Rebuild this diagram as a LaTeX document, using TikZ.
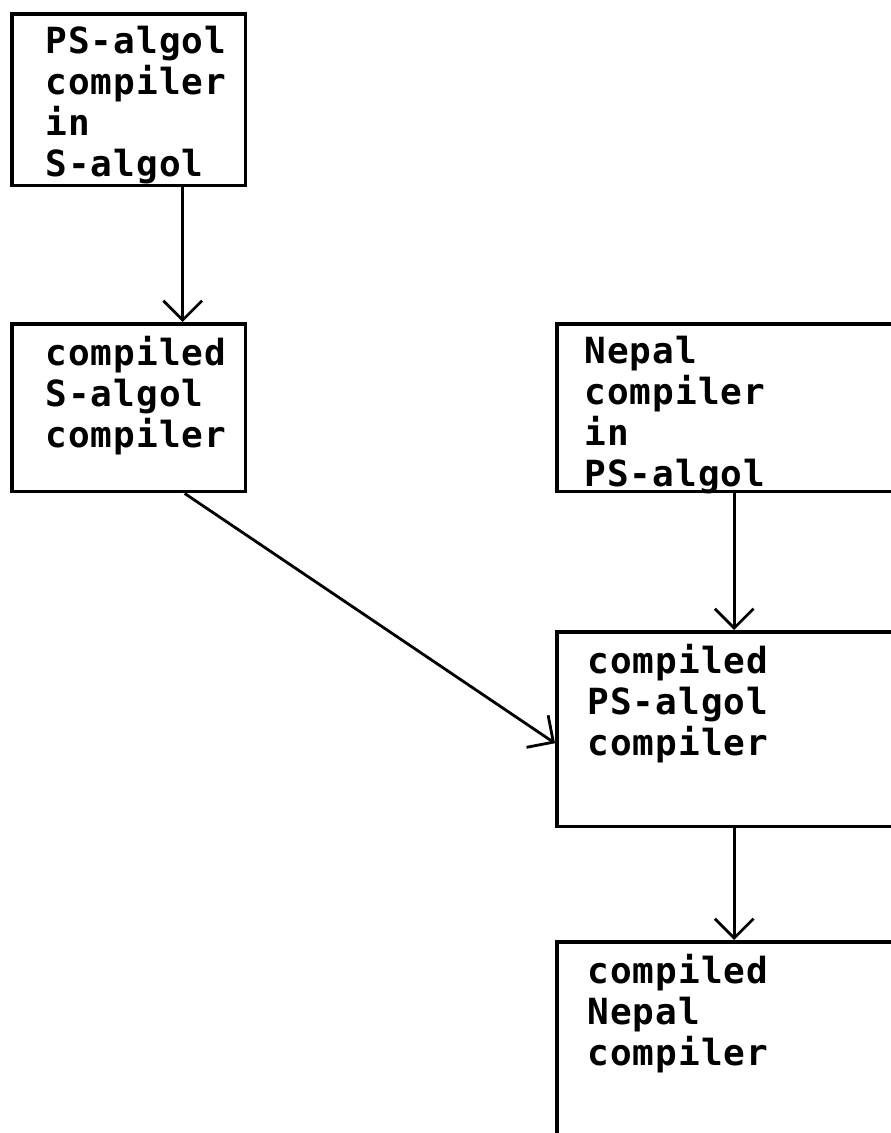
\documentclass[tikz,border=0pt]{standalone}
\usepackage{fontspec}
\setmonofont[LetterSpace=3]{DejaVu Sans Mono}
\usetikzlibrary{arrows.meta,positioning}
\tikzstyle{box}=[draw=black, line width=2pt, shape=rectangle, anchor=north west, inner sep=0pt]
\tikzstyle{lbl}=[anchor=north west, align=left, inner sep=0pt, font=\ttfamily\bfseries\fontsize{20.5}{23.25}\selectfont]
\tikzstyle{arr}=[line width=1.6pt, -{Straight Barb[length=11pt, width=22pt, line width=1.6pt]}]

\begin{document}
\begin{tikzpicture}[x=0.02cm, y=-0.02cm]
		\useasboundingbox (0, 0) rectangle (891, 1133);

		\node [style=box, minimum width=4.68cm, minimum height=3.44cm] (b1) at (10, 12) {};
		\node [style=box, minimum width=4.68cm, minimum height=3.36cm] (b2) at (10, 322) {};
		\node [style=box, minimum width=7.2cm, minimum height=3.36cm] (b3) at (555, 322) {};
		\node [style=box, minimum width=7.2cm, minimum height=3.9cm] (b4) at (555, 630) {};
		\node [style=box, minimum width=7.2cm, minimum height=4.4cm] (b5) at (555, 940) {};

		\node [style=lbl] (t1) at (45, 26) {PS-algol\\compiler\\in\\S-algol};
		\node [style=lbl] (t2) at (45, 336) {compiled\\S-algol\\compiler};
		\node [style=lbl] (t3) at (584, 336) {Nepal\\compiler\\in\\PS-algol};
		\node [style=lbl] (t4) at (587, 644) {compiled\\PS-algol\\compiler};
		\node [style=lbl] (t5) at (587, 954) {compiled\\Nepal\\compiler};

		\draw [style=arr] ([xshift=1.08cm]b1.south) to ([xshift=1.08cm]b2.north);
		\draw [style=arr] ([xshift=1.12cm]b2.south) to ([yshift=-0.28cm]b4.west);
		\draw [style=arr] ([xshift=-0.05cm]b3.south) to ([xshift=-0.05cm]b4.north);
		\draw [style=arr] ([xshift=-0.05cm]b4.south) to ([xshift=-0.05cm]b5.north);
	\end{tikzpicture}
\end{document}
